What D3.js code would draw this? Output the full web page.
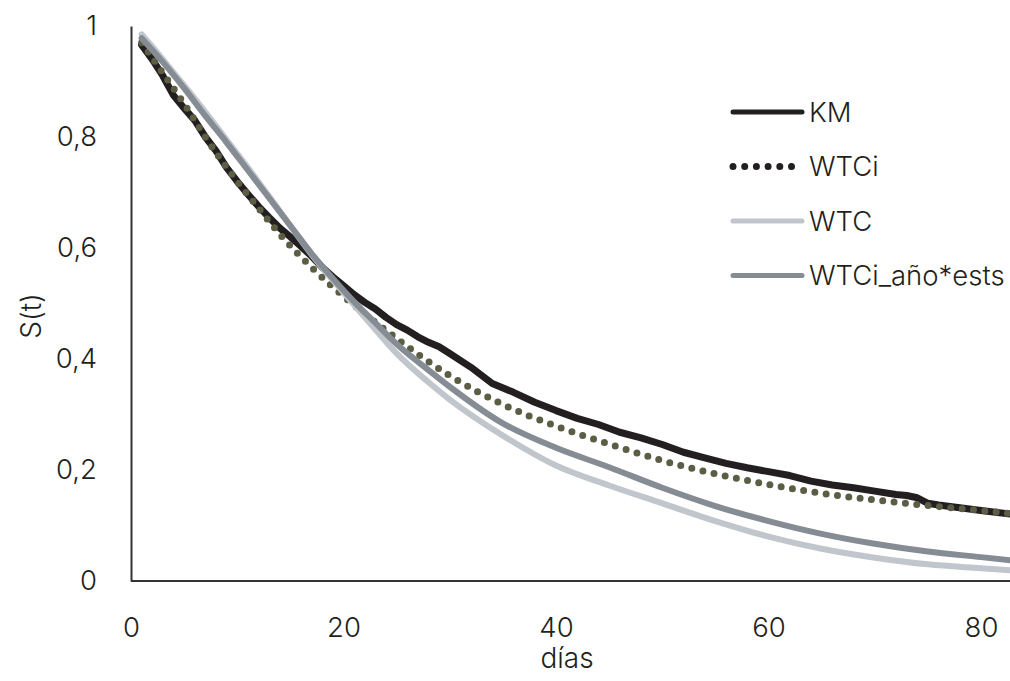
<!DOCTYPE html>
<html>
<head>
<meta charset="utf-8">
<script src="https://cdn.jsdelivr.net/npm/d3@7"></script>
<style>
  body { margin: 0; background: #fff; }
  svg { display: block; font-family: "Inter", "Roboto", "Liberation Sans", sans-serif; font-weight: 300; }
</style>
</head>
<body>
<div id="chart"></div>
<script>
// survival curves
const kmDays = [1, 2, 3, 4, 5, 6, 7, 8, 9, 10, 11, 12, 13, 14, 15, 16, 17, 18, 19, 20, 21, 22, 23, 24, 25, 26, 27, 28, 29, 30, 32, 34, 36, 38, 40, 42, 44, 46, 48, 50, 52, 54, 56, 58, 60, 62, 64, 66, 68, 70, 72, 73, 74, 75, 76, 78, 80, 83];
const kmValues = [0.966, 0.94, 0.91, 0.875, 0.852, 0.83, 0.8, 0.775, 0.745, 0.72, 0.697, 0.675, 0.655, 0.636, 0.62, 0.603, 0.585, 0.565, 0.548, 0.532, 0.516, 0.502, 0.49, 0.475, 0.462, 0.452, 0.44, 0.43, 0.422, 0.41, 0.385, 0.356, 0.34, 0.322, 0.307, 0.293, 0.282, 0.268, 0.258, 0.246, 0.232, 0.222, 0.212, 0.204, 0.197, 0.19, 0.18, 0.173, 0.168, 0.162, 0.156, 0.154, 0.15, 0.14, 0.137, 0.132, 0.127, 0.12];

const wtciDays = [1, 3, 5, 7, 10, 12, 14, 17, 21, 25, 30, 35, 40, 45, 50, 55, 60, 65, 70, 75, 80, 83];
const wtciValues = [0.97, 0.915, 0.86, 0.8, 0.72, 0.672, 0.625, 0.565, 0.497, 0.437, 0.37, 0.318, 0.279, 0.247, 0.217, 0.193, 0.174, 0.158, 0.146, 0.136, 0.127, 0.121];

const wtcDays = [1, 3, 5, 7, 9, 11, 13, 15, 17, 19, 21, 23, 25, 28, 30, 35, 40, 45, 50, 55, 60, 65, 70, 75, 80, 83];
const wtcValues = [0.985, 0.94, 0.893, 0.845, 0.795, 0.745, 0.693, 0.64, 0.588, 0.542, 0.497, 0.453, 0.41, 0.358, 0.327, 0.262, 0.208, 0.172, 0.14, 0.108, 0.08, 0.058, 0.042, 0.03, 0.023, 0.019];

const anoDays = [1, 3, 5, 7, 9, 11, 13, 15, 17, 19, 21, 23, 25, 28, 30, 35, 40, 45, 50, 55, 60, 65, 70, 75, 80, 83];
const anoValues = [0.978, 0.935, 0.888, 0.838, 0.79, 0.74, 0.69, 0.64, 0.59, 0.545, 0.503, 0.465, 0.427, 0.38, 0.35, 0.284, 0.24, 0.205, 0.168, 0.135, 0.108, 0.085, 0.067, 0.053, 0.043, 0.037];

const xTicks = [0, 20, 40, 60, 80];
const yTicks = [0, 0.2, 0.4, 0.6, 0.8, 1];

const width = 1010, height = 681;
const textColor = "#231f20";

const svg = d3.select("#chart").append("svg")
  .attr("width", width)
  .attr("height", height);

const x = d3.scaleLinear().domain([0, 80]).range([131, 981]);
const y = d3.scaleLinear().domain([0, 1]).range([581, 26]);

// series, in drawing order
const series = [
  { name: "KM", days: kmDays, values: kmValues, color: "#231f20", width: 7, curve: d3.curveLinear },
  { name: "WTCi", days: wtciDays, values: wtciValues, color: "#5c5d45", width: 7, dots: true, curve: d3.curveMonotoneX },
  { name: "WTC", days: wtcDays, values: wtcValues, color: "#c1c6cd", width: 6, curve: d3.curveMonotoneX },
  { name: "WTCi_año*ests", days: anoDays, values: anoValues, color: "#858c93", width: 6, curve: d3.curveMonotoneX }
];

series.forEach((s) => {
  const pts = s.days.map((d, i) => [d, s.values[i]]);
  const line = d3.line().x((p) => x(p[0])).y((p) => y(p[1])).curve(s.curve);
  svg.append("path")
    .attr("d", line(pts))
    .attr("fill", "none")
    .attr("stroke", s.color)
    .attr("stroke-width", s.width)
    .attr("stroke-linecap", "round")
    .attr("stroke-linejoin", "round")
    .attr("stroke-dasharray", s.dots ? "0 11.4" : null);
});

// axes
const xAxis = svg.append("g")
  .attr("transform", `translate(0,${y(0)})`)
  .call(d3.axisBottom(x).tickValues(xTicks).tickSize(0).tickPadding(36));
xAxis.select(".domain").attr("d", `M${x(0)},0H${width}`).attr("stroke", "#333").attr("stroke-width", 2);

const yAxis = svg.append("g")
  .attr("transform", `translate(${x(0)},0)`)
  .call(d3.axisLeft(y).tickValues(yTicks).tickSize(0).tickPadding(34)
    .tickFormat((d) => d3.format("~g")(d).replace(".", ",")));
yAxis.select(".domain").attr("stroke", "#333").attr("stroke-width", 2);

svg.selectAll("g").attr("font-family", null).attr("font-size", null);
svg.selectAll(".tick text")
  .attr("font-size", 27.5)
  .attr("fill", textColor);

// axis titles
svg.append("text")
  .attr("x", 567).attr("y", 668)
  .attr("text-anchor", "middle")
  .attr("font-size", 28)
  .attr("fill", textColor)
  .text("días");

svg.append("text")
  .attr("transform", "translate(41,316) rotate(-90)")
  .attr("text-anchor", "middle")
  .attr("font-size", 28)
  .attr("fill", textColor)
  .text("S(t)");

// legend
const legendLabels = ["KM", "WTCi", "WTC", "WTCi_año*ests"];
const legendColors = ["#231f20", "#231f20", "#c1c6cd", "#858c93"];
const legend = svg.append("g").attr("transform", "translate(733,112)");
legendLabels.forEach((label, i) => {
  const g = legend.append("g").attr("transform", `translate(0,${i * 54.5})`);
  g.append("line")
    .attr("x1", 0).attr("x2", i === 1 ? 62 : 69)
    .attr("y1", 0).attr("y2", 0)
    .attr("stroke", legendColors[i])
    .attr("stroke-width", i === 1 ? 7 : 5)
    .attr("stroke-linecap", "round")
    .attr("stroke-dasharray", i === 1 ? "0 11.7" : null);
  g.append("text")
    .attr("x", 76).attr("y", 0)
    .attr("dy", "0.35em")
    .attr("font-size", 27.5)
    .attr("fill", textColor)
    .text(label);
});
</script>
</body>
</html>
